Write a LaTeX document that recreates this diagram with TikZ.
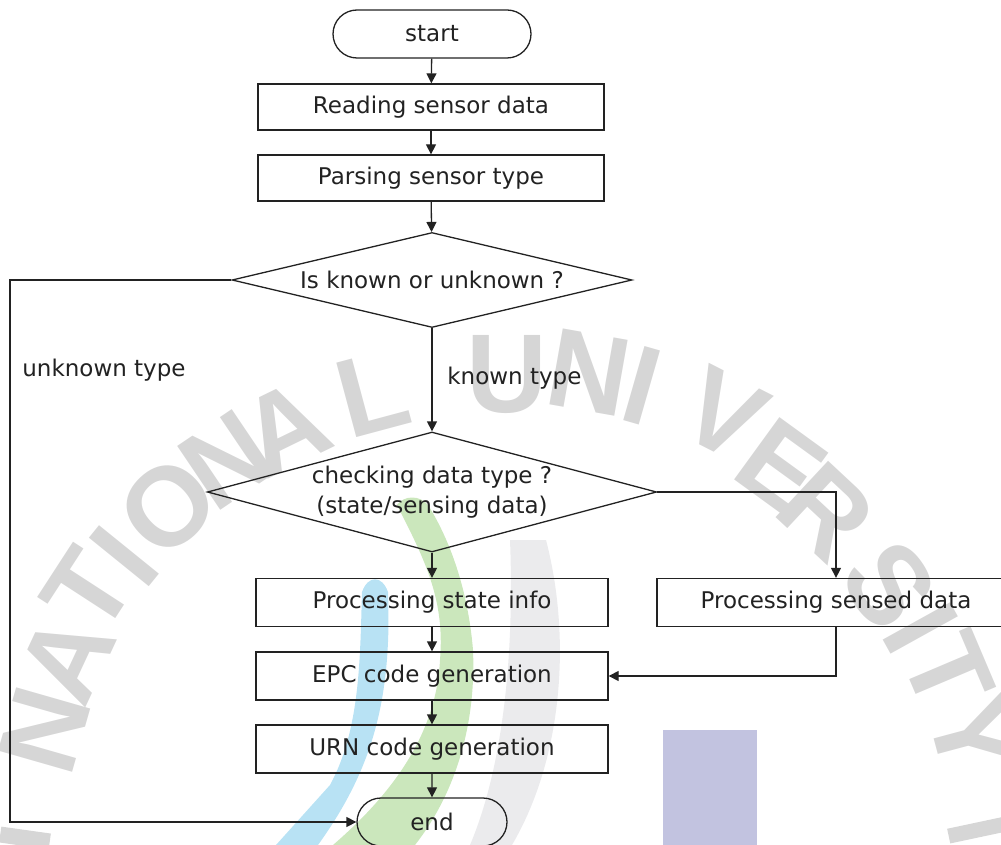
\documentclass[tikz,border=0pt]{standalone}
\usepackage{fontspec}
\setmainfont{DejaVu Sans}
\newfontfamily\wmfont{Liberation Sans}
\usetikzlibrary{shapes.geometric,shapes.misc,arrows.meta}
\definecolor{ink}{HTML}{222222}
\definecolor{wmgray}{HTML}{D6D6D6}
\definecolor{wmgreen}{HTML}{CBE7BC}
\definecolor{wmblue}{HTML}{B8E2F4}
\definecolor{wmlight}{HTML}{EBEBED}
\definecolor{wmviolet}{HTML}{C2C3E0}
\begin{document}
\begin{tikzpicture}[x=0.5pt,y=-0.5pt,
  every node/.style={font=\fontsize{11.5pt}{15pt}\selectfont, text=ink},
  flow/.style={draw=ink, line width=0.65pt},
  proc/.style={flow, rectangle, minimum width=176pt, minimum height=24pt, inner sep=0pt},
  term/.style={flow, rounded rectangle, minimum height=24pt, inner sep=0pt},
  decide/.style={flow, diamond, inner sep=0pt, aspect=4, align=center},
  link/.style={draw=ink, line width=0.65pt, -{Triangle[length=5pt,width=5pt]}},
  wmletter/.style={font=\wmfont\bfseries\fontsize{56pt}{56pt}\selectfont, text=wmgray, inner sep=0pt}
]
\useasboundingbox (0,0) rectangle (1001,845);

% background emblem: coloured swooshes and square
\fill[wmlight] (510,540) .. controls (514,640) and (506,760) .. (470,845)
  -- (512,845) .. controls (562,760) and (572,640) .. (546,540) -- cycle;
\fill[wmblue] (362,592) .. controls (360,660) and (360,730) .. (330,785)
  -- (276,845) -- (318,845) .. controls (372,770) and (392,700) .. (388,592)
  .. controls (382,575) and (368,575) .. (362,592) -- cycle;
\fill[wmgreen] (397,505) .. controls (425,560) and (445,600) .. (440,660)
  .. controls (436,740) and (385,800) .. (333,845) -- (415,845)
  .. controls (458,790) and (476,720) .. (473,650)
  .. controls (468,590) and (450,540) .. (428,505)
  .. controls (420,495) and (404,495) .. (397,505) -- cycle;
\fill[wmviolet] (663,730) rectangle (757,845);
\fill[wmgray, rotate around={-8:(25,838)}] (0,830) rectangle (50,846);
\fill[wmgray, rotate around={12:(975,830)}] (948,823) rectangle (1003,838);

% background lettering along an arc
\foreach \ch/\px/\py/\rot [count=\k] in {
  N/45/730/74, A/67/658/65, T/88/591/57, I/124/556/51, O/168/507/43,
  N/226/460/34, A/285/428/26, L/373/393/15,
  U/507/375/0, N/589/373/-10, I/642/386/-16, V/724/414/-27, E/781/466/-36,
  R/826/512/-43, S/889/585/-55, I/921/628/-61, T/948/672/-67, Y/973/737/-75}
  \node[wmletter, rotate=\rot] (wm\k) at (\px,\py) {\ch};

% flowchart
\node[term, minimum width=99pt] (start) at (432,34) {start};
\node[proc, minimum width=173pt, minimum height=23pt] (read) at (431,107) {Reading sensor data};
\node[proc, minimum width=173pt, minimum height=23pt] (parse) at (431,178) {Parsing sensor type};
\node[decide, minimum width=200pt, minimum height=47.5pt] (d1) at (432,280) {Is known or unknown ?};
\node[decide, minimum width=199pt, minimum height=60pt] (d2) at (432,492)
  {checking data type ?\\(state/sensing data)};
\node[proc] (state) at (432,602.5) {Processing state info};
\node[proc, minimum width=179pt] (sensed) at (836,602.5) {Processing sensed data};
\node[proc] (epc) at (432,676) {EPC code generation};
\node[proc] (urn) at (432,749) {URN code generation};
\node[term, minimum width=75pt] (end) at (432,822) {end};

\node[anchor=west, inner sep=0pt] (unk) at (22,370) {unknown type};
\node[anchor=west, inner sep=0pt] (kn) at (447,378) {known type};

\coordinate (lcorner) at (10,280);

\draw[link] (start) -- (read);
\draw[link] (read) -- (parse);
\draw[link] (parse) -- (d1);
\draw[link] (d1) -- (d2);
\draw[link] (d1.west) -- (lcorner) |- (end.west);
\draw[link] (d2.east) -| (sensed.north);
\draw[link] (d2) -- (state);
\draw[link] (state) -- (epc);
\draw[link] (epc) -- (urn);
\draw[link] (urn) -- (end);
\draw[link] (sensed.south) |- (epc.east);
\end{tikzpicture}
\end{document}
